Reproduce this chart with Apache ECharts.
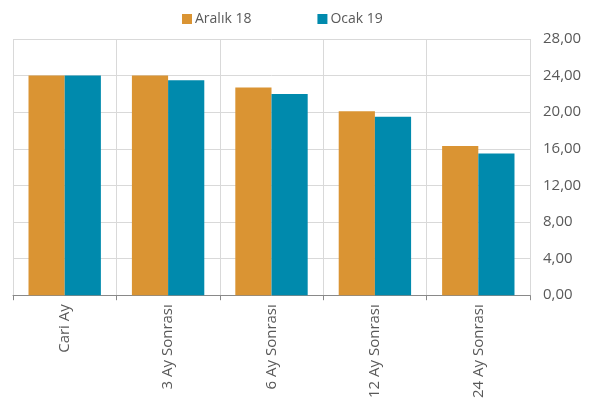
<!DOCTYPE html>
<html>
<head>
<meta charset="utf-8">
<script src="https://cdn.jsdelivr.net/npm/echarts@6/dist/echarts.min.js"></script>
<style>
html,body{margin:0;padding:0;background:#fff;}
#c{width:608px;height:401px;}
</style>
</head>
<body>
<div id="c"></div>
<script>
var categories = ['Cari Ay', '3 Ay Sonrası', '6 Ay Sonrası', '12 Ay Sonrası', '24 Ay Sonrası'];
var seriesNames = ['Aralık 18', 'Ocak 19'];
var aralik18 = [24.0, 24.0, 22.7, 20.1, 16.3];
var ocak19 = [24.0, 23.5, 22.0, 19.5, 15.5];
var yMin = 0, yMax = 28, yStep = 4;

var font = "'Open Sans', 'Liberation Sans', sans-serif";
var textColor = '#595959';
var chart = echarts.init(document.getElementById('c'));
chart.setOption({
  animation: false,
  backgroundColor: '#fff',
  color: ['#DA9433', '#008AAD'],
  legend: {
    top: 7,
    left: 177,
    itemWidth: 10,
    itemHeight: 10,
    itemGap: 66,
    icon: 'rect',
    textStyle: {color: textColor, fontSize: 14, fontFamily: font, padding: [0, 0, 0, -2]},
    data: seriesNames
  },
  grid: {left: 13, right: 78, top: 39, bottom: 105, containLabel: false},
  xAxis: {
    type: 'category',
    data: categories,
    boundaryGap: true,
    axisLine: {lineStyle: {color: '#898989', width: 1}},
    axisTick: {show: true, length: 5, lineStyle: {color: '#898989'}},
    splitLine: {show: true, lineStyle: {color: '#D9D9D9', width: 1}},
    axisLabel: {rotate: 90, margin: 9, color: textColor, fontSize: 15, fontFamily: font}
  },
  yAxis: {
    type: 'value',
    position: 'right',
    min: yMin, max: yMax, interval: yStep,
    axisLine: {show: false},
    axisTick: {show: false},
    splitLine: {lineStyle: {color: '#D9D9D9', width: 1}},
    axisLabel: {
      margin: 13, color: textColor, fontSize: 15, fontFamily: font,
      formatter: function (v) { return v.toFixed(2).replace('.', ','); }
    }
  },
  series: [
    {name: seriesNames[0], type: 'bar', data: aralik18, barGap: '0%', barCategoryGap: '30%'},
    {name: seriesNames[1], type: 'bar', data: ocak19, barGap: '0%', barCategoryGap: '30%'}
  ]
});
</script>
</body>
</html>
